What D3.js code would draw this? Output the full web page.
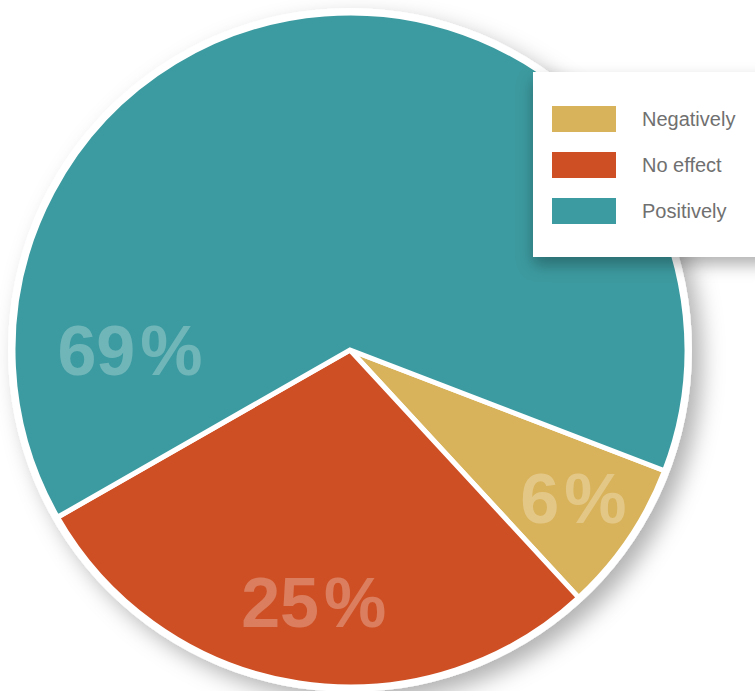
<!DOCTYPE html>
<html>
<head>
<meta charset="utf-8">
<script src="https://cdn.jsdelivr.net/npm/d3@7"></script>
<style>
  html, body { margin: 0; padding: 0; background: #fff; }
  svg { display: block; }
</style>
</head>
<body>
<div class="chart-container"></div>
<script>
const categories = ["Negatively", "No effect", "Positively"];
const shares = [7.3, 28.6, 64.1];
// printed labels
const labels = ["6", "25", "69"];
const colors = ["#d9b35b", "#ce4f24", "#3c9ba0"];

const width = 755, height = 691;
const cx = 350, cy = 350, radius = 337;

const svg = d3.select(".chart-container").append("svg")
    .attr("width", width)
    .attr("height", height);

const defs = svg.append("defs");
defs.append("filter")
    .attr("id", "pieShadow")
    .attr("x", "-20%").attr("y", "-20%")
    .attr("width", "140%").attr("height", "140%")
  .append("feDropShadow")
    .attr("dx", 10).attr("dy", 10)
    .attr("stdDeviation", 11)
    .attr("flood-color", "#000")
    .attr("flood-opacity", 0.3);
defs.append("filter")
    .attr("id", "boxShadow")
    .attr("x", "-30%").attr("y", "-30%")
    .attr("width", "160%").attr("height", "160%")
  .append("feDropShadow")
    .attr("dx", 0).attr("dy", 8)
    .attr("stdDeviation", 8)
    .attr("flood-color", "#000")
    .attr("flood-opacity", 0.3);

const g = svg.append("g")
    .attr("transform", "translate(" + cx + "," + cy + ")");

// white disc behind the slices carries the shadow
g.append("circle")
    .attr("r", radius + 5)
    .attr("fill", "#fff")
    .attr("filter", "url(#pieShadow)");

const pie = d3.pie()
    .sort(null)
    .value((d) => d)
    .startAngle(111 * Math.PI / 180)
    .endAngle(471 * Math.PI / 180);

const arc = d3.arc().innerRadius(0).outerRadius(radius);

g.selectAll(".slice")
    .data(pie(shares))
  .enter().append("path")
    .attr("class", "slice")
    .attr("d", arc)
    .attr("fill", (d, i) => colors[i])
    .attr("stroke", "#fff")
    .attr("stroke-width", 5)
    .attr("stroke-linejoin", "miter");

// where each label sits: angle (deg, clockwise from top) and radius fraction
const labelSpots = [[123.5, 0.795], [188.2, 0.755], [270, 0.653]];
const fontSize = 70;

const pct = g.selectAll(".pct")
    .data(labels)
  .enter().append("text")
    .attr("class", "pct")
    .attr("x", (d, i) => Math.sin(labelSpots[i][0] * Math.PI / 180) * labelSpots[i][1] * radius)
    .attr("y", (d, i) => -Math.cos(labelSpots[i][0] * Math.PI / 180) * labelSpots[i][1] * radius + fontSize * 0.36)
    .attr("text-anchor", "middle")
    .style("font-family", "'Liberation Sans', Arial, sans-serif")
    .style("font-weight", "bold")
    .style("font-size", fontSize + "px")
    .attr("fill", "#fff")
    .attr("fill-opacity", 0.27);

pct.append("tspan").text((d) => d);
pct.append("tspan").attr("dx", 5).text("%");

// legend
const legend = svg.append("g")
    .attr("transform", "translate(533,72)");

legend.append("rect")
    .attr("width", 250)
    .attr("height", 185)
    .attr("fill", "#fff")
    .attr("filter", "url(#boxShadow)");

const item = legend.selectAll(".item")
    .data(categories)
  .enter().append("g")
    .attr("class", "item")
    .attr("transform", (d, i) => "translate(19," + (34 + i * 46) + ")");

item.append("rect")
    .attr("width", 64)
    .attr("height", 26)
    .attr("fill", (d, i) => colors[i]);

item.append("text")
    .attr("x", 90)
    .attr("y", 20)
    .style("font-family", "'Liberation Sans', Arial, sans-serif")
    .style("font-size", "20px")
    .attr("fill", "#707070")
    .text((d) => d);
</script>
</body>
</html>
